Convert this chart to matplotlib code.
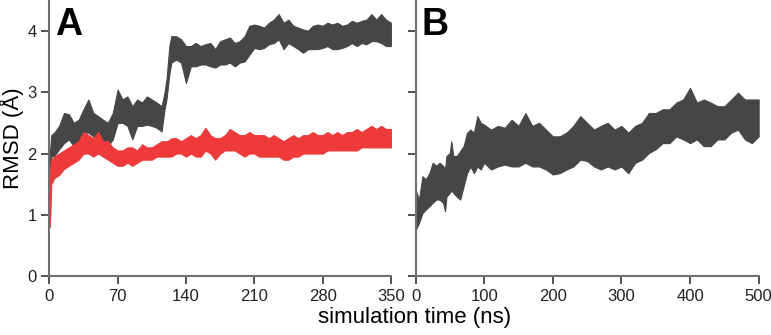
import numpy as np
import matplotlib
matplotlib.use("Agg")
from matplotlib import pyplot as plt

plt.rcParams["font.family"] = ["Liberation Sans", "DejaVu Sans"]

# panel A, 350 ns runs: time (ns) with lower/upper edge of the noisy trace
t_a = [0, 1, 2, 5, 10, 15, 20, 25, 30, 35, 40, 45, 50, 55, 60, 65, 70, 75, 80, 85,
       90, 95, 100, 105, 110, 115, 118, 120, 123, 125, 130, 135, 140, 145, 150,
       155, 160, 165, 170, 175, 180, 185, 190, 195, 200, 205, 210, 215, 220, 225,
       230, 235, 240, 245, 250, 255, 260, 265, 270, 275, 280, 285, 290, 295, 300,
       305, 310, 315, 320, 325, 330, 335, 340, 345, 350]

gray_a_hi = [1.85, 2.1, 2.3, 2.34, 2.45, 2.66, 2.64, 2.5, 2.55, 2.72, 2.88, 2.66, 2.61,
             2.55, 2.5, 2.66, 3.04, 2.88, 2.93, 2.77, 2.88, 2.83, 2.93, 2.88, 2.83, 2.77,
             2.99, 3.2, 3.75, 3.91, 3.91, 3.86, 3.75, 3.75, 3.8, 3.75, 3.78, 3.8, 3.7,
             3.83, 3.86, 3.89, 3.8, 3.83, 3.91, 4.08, 4.1, 4.08, 4.05, 4.13, 4.18, 4.27,
             4.13, 4.18, 4.08, 4.05, 4.02, 4.0, 4.08, 4.1, 4.08, 4.13, 4.1, 4.13, 4.08,
             4.1, 4.16, 4.13, 4.16, 4.18, 4.27, 4.18, 4.27, 4.18, 4.13]
gray_a_lo = [1.75, 1.85, 1.95, 1.96, 2.07, 2.17, 2.23, 2.12, 2.17, 2.34, 2.34, 2.28, 2.23,
             2.17, 2.12, 2.23, 2.5, 2.5, 2.45, 2.23, 2.45, 2.45, 2.47, 2.45, 2.42, 2.36,
             2.72, 2.88, 3.3, 3.48, 3.53, 3.48, 3.15, 3.42, 3.42, 3.45, 3.45, 3.42, 3.4,
             3.45, 3.45, 3.48, 3.42, 3.48, 3.5, 3.61, 3.72, 3.7, 3.72, 3.78, 3.8, 3.86,
             3.7, 3.8, 3.75, 3.7, 3.64, 3.7, 3.7, 3.7, 3.72, 3.75, 3.7, 3.7, 3.72, 3.75,
             3.8, 3.75, 3.8, 3.78, 3.83, 3.83, 3.8, 3.75, 3.75]

red_a_hi = [1.2, 1.8, 1.9, 1.95, 2.0, 2.05, 2.1, 2.15, 2.2, 2.35, 2.3, 2.25, 2.35, 2.2,
            2.2, 2.1, 2.05, 2.05, 2.1, 2.1, 2.05, 2.15, 2.1, 2.1, 2.15, 2.2, 2.2, 2.2,
            2.22, 2.25, 2.25, 2.2, 2.25, 2.3, 2.25, 2.3, 2.42, 2.3, 2.25, 2.25, 2.3, 2.4,
            2.35, 2.3, 2.3, 2.35, 2.3, 2.3, 2.3, 2.25, 2.3, 2.25, 2.2, 2.25, 2.3, 2.25,
            2.3, 2.3, 2.35, 2.3, 2.3, 2.35, 2.3, 2.35, 2.3, 2.35, 2.35, 2.4, 2.35, 2.4,
            2.45, 2.4, 2.45, 2.4, 2.4]
red_a_lo = [0.8, 1.0, 1.5, 1.6, 1.65, 1.75, 1.8, 1.85, 1.9, 2.0, 2.0, 1.95, 2.0, 1.95,
            1.9, 1.85, 1.8, 1.8, 1.85, 1.8, 1.85, 1.9, 1.9, 1.9, 1.95, 1.95, 1.95, 1.95,
            1.95, 1.95, 2.0, 2.0, 1.95, 2.0, 1.95, 1.95, 2.05, 2.0, 1.9, 2.0, 2.05, 2.05,
            2.05, 2.0, 1.95, 2.0, 2.0, 1.95, 1.95, 1.95, 1.95, 1.95, 1.9, 1.9, 1.95, 1.95,
            2.0, 2.0, 2.0, 2.0, 2.0, 2.05, 2.05, 2.05, 2.05, 2.05, 2.05, 2.05, 2.1, 2.1,
            2.1, 2.1, 2.1, 2.1, 2.1]

# panel B, 500 ns run
t_b = [0, 5, 10, 15, 20, 25, 30, 35, 40, 43, 45, 50, 52, 55, 60, 65, 70, 75, 80, 85,
       90, 95, 100, 110, 120, 130, 140, 150, 160, 170, 180, 190, 200, 210, 220, 230,
       240, 250, 260, 270, 280, 290, 300, 310, 320, 330, 340, 350, 360, 370, 380,
       390, 400, 410, 420, 430, 440, 450, 460, 470, 480, 490, 500]
gray_b_hi = [1.41, 1.25, 1.63, 1.58, 1.68, 1.85, 1.8, 1.85, 1.8, 1.75, 1.96, 2.01, 2.2,
             1.96, 1.96, 2.04, 2.12, 2.34, 2.39, 2.34, 2.61, 2.5, 2.47, 2.39, 2.45, 2.42,
             2.55, 2.45, 2.66, 2.45, 2.5, 2.39, 2.28, 2.28, 2.34, 2.45, 2.61, 2.5, 2.39,
             2.45, 2.5, 2.39, 2.45, 2.34, 2.45, 2.5, 2.66, 2.66, 2.72, 2.72, 2.83, 2.88,
             3.07, 2.83, 2.88, 2.83, 2.77, 2.77, 2.88, 2.99, 2.88, 2.88, 2.88]
gray_b_lo = [0.75, 0.87, 1.03, 1.09, 1.14, 1.2, 1.25, 1.25, 1.2, 1.06, 1.3, 1.36, 1.4,
             1.36, 1.3, 1.25, 1.47, 1.68, 1.79, 1.68, 1.79, 1.74, 1.85, 1.74, 1.79, 1.82,
             1.79, 1.79, 1.85, 1.79, 1.79, 1.74, 1.66, 1.68, 1.74, 1.79, 1.9, 1.88, 1.79,
             1.74, 1.79, 1.74, 1.79, 1.68, 1.85, 1.9, 2.01, 2.07, 2.17, 2.17, 2.28, 2.23,
             2.17, 2.23, 2.12, 2.12, 2.23, 2.23, 2.34, 2.39, 2.23, 2.17, 2.28]

gray = "#464646"
red = "#ee3a3a"
spine = "#707070"

fig = plt.figure(figsize=(7.71, 3.35), dpi=100)
ax_a = fig.add_axes([0.064, 0.175, 0.443, 0.825])
ax_b = fig.add_axes([0.539, 0.175, 0.445, 0.825])

ax_a.fill_between(t_a, gray_a_lo, gray_a_hi, color=gray, lw=0.8, ec=gray)
ax_a.fill_between(t_a, red_a_lo, red_a_hi, color=red, lw=0.8, ec=red)
ax_b.fill_between(t_b, gray_b_lo, gray_b_hi, color=gray, lw=0.8, ec=gray)

for ax in (ax_a, ax_b):
    ax.set_ylim(0, 4.5)
    ax.set_yticks([0, 1, 2, 3, 4])
    for s in ("top", "right"):
        ax.spines[s].set_visible(False)
    for s in ("left", "bottom"):
        ax.spines[s].set_color(spine)
        ax.spines[s].set_linewidth(1.5)
    ax.tick_params(direction="out", length=6, width=1.2, color="#333333",
                   labelsize=12, labelcolor="#222222", pad=3)

ax_a.set_xlim(0, 350)
ax_a.set_xticks([0, 70, 140, 210, 280, 350])
ax_a.set_ylabel("RMSD (Å)", fontsize=16)
ax_a.yaxis.set_label_coords(-0.075, 0.5)

ax_b.set_xlim(0, 500)
ax_b.set_xticks([0, 100, 200, 300, 400, 500])
ax_b.set_yticklabels([])

ax_a.text(0.018, 0.975, "A", transform=ax_a.transAxes, fontsize=27,
          fontweight="bold", va="top", ha="left")
ax_b.text(0.018, 0.975, "B", transform=ax_b.transAxes, fontsize=27,
          fontweight="bold", va="top", ha="left")

fig.text(0.538, 0.02, "simulation time (ns)", fontsize=16, ha="center", va="bottom")

fig.savefig("out.png", dpi=100)
